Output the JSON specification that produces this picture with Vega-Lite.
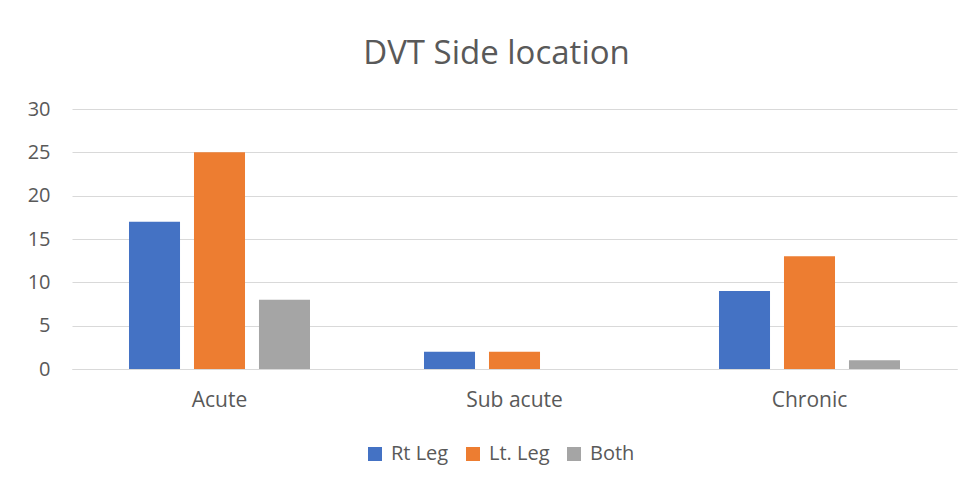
{
  "$schema": "https://vega.github.io/schema/vega-lite/v6.json",
  "width": 885,
  "height": 260,
  "autosize": {"type": "none"},
  "padding": {"left": 72, "top": 109, "right": 20, "bottom": 118},
  "background": "white",
  "title": {
    "text": "DVT Side location",
    "fontSize": 33,
    "font": "Open Sans",
    "fontWeight": "normal",
    "color": "#595959",
    "anchor": "middle",
    "offset": 28,
    "dx": -18
  },
  "data": {
    "values": [
      {"cat": "Acute", "series": "Rt Leg", "value": 17},
      {"cat": "Acute", "series": "Lt. Leg", "value": 25},
      {"cat": "Acute", "series": "Both", "value": 8},
      {"cat": "Sub acute", "series": "Rt Leg", "value": 2},
      {"cat": "Sub acute", "series": "Lt. Leg", "value": 2},
      {"cat": "Sub acute", "series": "Both", "value": 0},
      {"cat": "Chronic", "series": "Rt Leg", "value": 9},
      {"cat": "Chronic", "series": "Lt. Leg", "value": 13},
      {"cat": "Chronic", "series": "Both", "value": 1}
    ]
  },
  "mark": {"type": "bar"},
  "encoding": {
    "x": {
      "field": "cat",
      "type": "nominal",
      "sort": ["Acute", "Sub acute", "Chronic"],
      "scale": {"paddingInner": 0, "paddingOuter": 0},
      "axis": {
        "title": null,
        "labelAngle": 0,
        "ticks": false,
        "domain": true,
        "domainColor": "#d9d9d9",
        "domainWidth": 1,
        "labelFont": "Open Sans",
        "labelFontSize": 21,
        "labelColor": "#595959",
        "labelPadding": 20
      }
    },
    "xOffset": {
      "field": "series",
      "type": "nominal",
      "sort": ["Rt Leg", "Lt. Leg", "Both"],
      "scale": {"paddingInner": 0.215, "paddingOuter": 0.877}
    },
    "y": {
      "field": "value",
      "type": "quantitative",
      "scale": {"domain": [0, 30]},
      "axis": {
        "title": null,
        "values": [0, 5, 10, 15, 20, 25, 30],
        "domain": false,
        "ticks": false,
        "grid": true,
        "gridColor": "#d9d9d9",
        "gridWidth": 1,
        "labelFont": "Open Sans",
        "labelFontSize": 20,
        "labelColor": "#595959",
        "labelPadding": 22
      }
    },
    "color": {
      "field": "series",
      "type": "nominal",
      "sort": ["Rt Leg", "Lt. Leg", "Both"],
      "scale": {"domain": ["Rt Leg", "Lt. Leg", "Both"], "range": ["#4472C4", "#ED7D31", "#A5A5A5"]},
      "legend": {
        "title": null,
        "orient": "none",
        "direction": "horizontal",
        "legendX": 293,
        "legendY": 335,
        "symbolType": "square",
        "symbolSize": 196,
        "symbolStrokeWidth": 0,
        "labelFont": "Open Sans",
        "labelFontSize": 20,
        "labelColor": "#595959",
        "columnPadding": 14,
        "labelOffset": 6
      }
    }
  },
  "config": {"view": {"stroke": null}}
}
